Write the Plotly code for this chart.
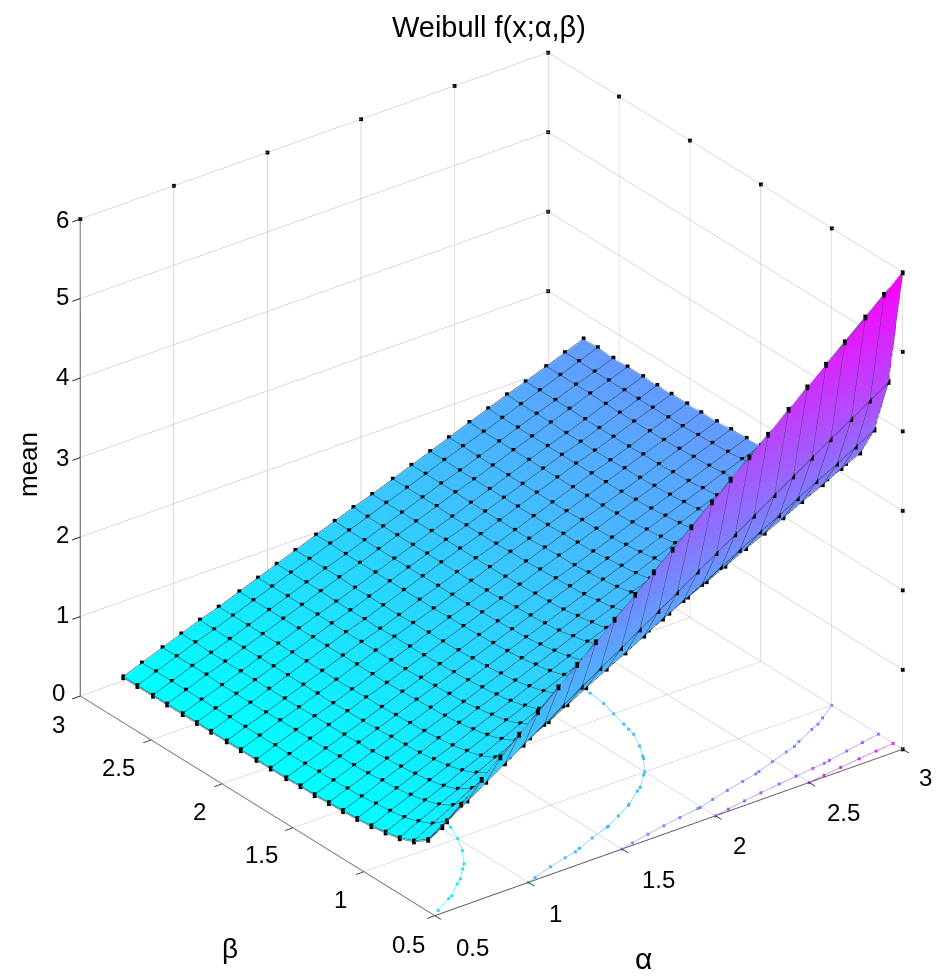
import plotly.graph_objects as go

title = "Weibull f(x;α,β)"
alpha = [0.54,0.64,0.75,0.85,0.95,1.05,1.16,1.26,1.36,1.46,1.57,1.67,1.77,1.87,1.98,2.08,2.18,2.28,2.39,2.49,2.59,2.69,2.80,2.90,3.00]
beta = [0.5,0.6,0.7,0.8,0.9,1.0,1.1,1.2,1.3,1.4,1.5,1.6,1.71,1.81,1.92,2.02,2.13,2.23,2.33,2.44,2.54,2.65,2.75]
mean = [
[1.08,1.28,1.50,1.70,1.90,2.10,2.32,2.52,2.72,2.92,3.14,3.34,3.54,3.74,3.96,4.16,4.36,4.56,4.78,4.98,5.18,5.38,5.60,5.80,6.00],
[0.81,0.96,1.13,1.28,1.43,1.58,1.75,1.90,2.05,2.20,2.36,2.51,2.66,2.81,2.98,3.13,3.28,3.43,3.60,3.75,3.90,4.05,4.21,4.36,4.51],
[0.68,0.81,0.95,1.08,1.20,1.33,1.47,1.59,1.72,1.85,1.99,2.11,2.24,2.37,2.51,2.63,2.76,2.89,3.03,3.15,3.28,3.41,3.54,3.67,3.80],
[0.61,0.73,0.85,0.96,1.08,1.19,1.31,1.43,1.54,1.65,1.78,1.89,2.01,2.12,2.24,2.36,2.47,2.58,2.71,2.82,2.93,3.05,3.17,3.29,3.40],
[0.57,0.67,0.79,0.89,1.00,1.10,1.22,1.33,1.43,1.54,1.65,1.76,1.86,1.97,2.08,2.19,2.29,2.40,2.51,2.62,2.73,2.83,2.95,3.05,3.16],
[0.54,0.64,0.75,0.85,0.95,1.05,1.16,1.26,1.36,1.46,1.57,1.67,1.77,1.87,1.98,2.08,2.18,2.28,2.39,2.49,2.59,2.69,2.80,2.90,3.00],
[0.52,0.62,0.72,0.82,0.92,1.01,1.12,1.22,1.31,1.41,1.51,1.61,1.71,1.80,1.91,2.01,2.10,2.20,2.31,2.40,2.50,2.60,2.70,2.80,2.89],
[0.51,0.60,0.71,0.80,0.89,0.99,1.09,1.19,1.28,1.37,1.48,1.57,1.67,1.76,1.86,1.96,2.05,2.14,2.25,2.34,2.44,2.53,2.63,2.73,2.82],
[0.50,0.59,0.69,0.79,0.88,0.97,1.07,1.16,1.26,1.35,1.45,1.54,1.63,1.73,1.83,1.92,2.01,2.11,2.21,2.30,2.39,2.48,2.59,2.68,2.77],
[0.49,0.58,0.68,0.77,0.87,0.96,1.06,1.15,1.24,1.33,1.43,1.52,1.61,1.70,1.80,1.90,1.99,2.08,2.18,2.27,2.36,2.45,2.55,2.64,2.73],
[0.49,0.58,0.68,0.77,0.86,0.95,1.05,1.14,1.23,1.32,1.42,1.51,1.60,1.69,1.79,1.88,1.97,2.06,2.16,2.25,2.34,2.43,2.53,2.62,2.71],
[0.48,0.57,0.67,0.76,0.85,0.94,1.04,1.13,1.22,1.31,1.41,1.50,1.59,1.68,1.78,1.86,1.95,2.04,2.14,2.23,2.32,2.41,2.51,2.60,2.69],
[0.48,0.57,0.67,0.76,0.85,0.94,1.03,1.12,1.21,1.30,1.40,1.49,1.58,1.67,1.77,1.86,1.94,2.03,2.13,2.22,2.31,2.40,2.50,2.59,2.68],
[0.48,0.57,0.67,0.76,0.84,0.93,1.03,1.12,1.21,1.30,1.40,1.48,1.57,1.66,1.76,1.85,1.94,2.03,2.12,2.21,2.30,2.39,2.49,2.58,2.67],
[0.48,0.57,0.67,0.75,0.84,0.93,1.03,1.12,1.21,1.30,1.39,1.48,1.57,1.66,1.76,1.84,1.93,2.02,2.12,2.21,2.30,2.39,2.48,2.57,2.66],
[0.48,0.57,0.66,0.75,0.84,0.93,1.03,1.12,1.20,1.29,1.39,1.48,1.57,1.66,1.75,1.84,1.93,2.02,2.12,2.21,2.29,2.38,2.48,2.57,2.66],
[0.48,0.57,0.66,0.75,0.84,0.93,1.03,1.12,1.20,1.29,1.39,1.48,1.57,1.66,1.75,1.84,1.93,2.02,2.12,2.21,2.29,2.38,2.48,2.57,2.66],
[0.48,0.57,0.66,0.75,0.84,0.93,1.03,1.12,1.20,1.29,1.39,1.48,1.57,1.66,1.75,1.84,1.93,2.02,2.12,2.21,2.29,2.38,2.48,2.57,2.66],
[0.48,0.57,0.66,0.75,0.84,0.93,1.03,1.12,1.20,1.29,1.39,1.48,1.57,1.66,1.75,1.84,1.93,2.02,2.12,2.21,2.29,2.38,2.48,2.57,2.66],
[0.48,0.57,0.67,0.75,0.84,0.93,1.03,1.12,1.21,1.30,1.39,1.48,1.57,1.66,1.76,1.85,1.93,2.02,2.12,2.21,2.30,2.39,2.49,2.57,2.66],
[0.48,0.57,0.67,0.75,0.84,0.93,1.03,1.12,1.21,1.30,1.39,1.48,1.57,1.66,1.76,1.85,1.93,2.02,2.12,2.21,2.30,2.39,2.49,2.57,2.66],
[0.48,0.57,0.67,0.76,0.84,0.93,1.03,1.12,1.21,1.30,1.40,1.48,1.57,1.66,1.76,1.85,1.94,2.03,2.12,2.21,2.30,2.39,2.49,2.58,2.67],
[0.48,0.57,0.67,0.76,0.85,0.93,1.03,1.12,1.21,1.30,1.40,1.49,1.58,1.66,1.76,1.85,1.94,2.03,2.13,2.22,2.31,2.39,2.49,2.58,2.67],
]
alpha_ticks = [0.5,1,1.5,2,2.5,3]
beta_ticks = [0.5,1,1.5,2,2.5,3]
mean_ticks = [0,1,2,3,4,5,6]
contour_levels = [1,2,3,4,5]
alpha_labels = ["0.5","1","1.5","2","2.5","3"]
beta_labels = ["0.5","1","1.5","2","2.5","3"]
mean_labels = ["0","1","2","3","4","5","6"]

# where the text sits on the page, in pixels
alpha_label_px = [(472,947),(555,913),(658,879),(739,845),(843,812),(925,777)]
beta_label_px = [(408,944),(340,899),(261,854),(199,811),(118,767),(58,724)]
mean_label_px = [(58,692),(62,614),(62,534),(62,457),(62,376),(62,296),(62,220)]

GRID = "#b4b4b4"
AXIS = "#555555"
FONT = "Liberation Sans, Arial, sans-serif"
TEXT = "#000000"
LINE_LIFT = 0.008
DOT_LIFT = 0.012
zlo, zhi = min(map(min, mean)), 6.0

def cool(v):
    t = (v - zlo) / (zhi - zlo)
    return f"rgb({round(255*t)},{round(255*(1-t))},255)"

fig = go.Figure()
fig.add_trace(go.Surface(
    x=alpha, y=beta, z=mean, cmin=zlo, cmax=zhi,
    colorscale=[[0, "#00ffff"], [1, "#ff00ff"]], showscale=False,
    lighting=dict(ambient=1, diffuse=0, specular=0, roughness=1, fresnel=0),
    hoverinfo="skip"))

# mesh lines and node dots, one copy just above and one just below the sheet so both faces show them
for sign in (1, -1):
    lift = sign*LINE_LIFT
    mx, my, mz = [], [], []
    for i, b in enumerate(beta):
        mx += alpha + [None]; my += [b]*len(alpha) + [None]; mz += [v+lift for v in mean[i]] + [None]
    for j, a in enumerate(alpha):
        mx += [a]*len(beta) + [None]; my += beta + [None]; mz += [r[j]+lift for r in mean] + [None]
    fig.add_trace(go.Scatter3d(x=mx, y=my, z=mz, mode="lines",
                               line=dict(color="#2a3a50", width=1), hoverinfo="skip"))
    nx = [a for b in beta for a in alpha]
    ny = [b for b in beta for a in alpha]
    nz = [v+sign*DOT_LIFT for r in mean for v in r]
    fig.add_trace(go.Scatter3d(x=nx, y=ny, z=nz, mode="markers",
                               marker=dict(color="black", size=2, symbol="square"), hoverinfo="skip"))

# floor contours, taken from where the table crosses each level
for L in contour_levels:
    pts = []
    for i, b in enumerate(beta):
        r = mean[i]
        for j in range(len(alpha)-1):
            if (r[j]-L)*(r[j+1]-L) <= 0 and r[j] != r[j+1]:
                f = (L-r[j])/(r[j+1]-r[j])
                pts.append((b, alpha[j]+f*(alpha[j+1]-alpha[j])))
    for j, a in enumerate(alpha):
        for i in range(len(beta)-1):
            u, v = mean[i][j], mean[i+1][j]
            if (u-L)*(v-L) <= 0 and u != v:
                f = (L-u)/(v-u)
                pts.append((beta[i]+f*(beta[i+1]-beta[i]), a))
    pts.sort()
    fig.add_trace(go.Scatter3d(
        x=[p[1] for p in pts], y=[p[0] for p in pts], z=[0]*len(pts),
        mode="lines+markers",
        line=dict(color=cool(L), width=1),
        marker=dict(color=cool(L), size=1.5, symbol="square"), hoverinfo="skip"))

# tick dots along the far edges of the walls
dx = alpha_ticks + [3]*len(beta_ticks) + [3]*len(mean_ticks) + [3]*len(mean_ticks)
dy = [3]*len(alpha_ticks) + beta_ticks + [3]*len(mean_ticks) + [0.5]*len(mean_ticks)
dz = [6]*len(alpha_ticks) + [6]*len(beta_ticks) + mean_ticks + mean_ticks
fig.add_trace(go.Scatter3d(x=dx, y=dy, z=dz, mode="markers",
                           marker=dict(color="black", size=2, symbol="square"), hoverinfo="skip"))

def ax(rng, ticks):
    return dict(range=rng, tickmode="array", tickvals=ticks, showticklabels=False,
                showgrid=True, gridcolor=GRID, gridwidth=1, showline=True, linecolor=AXIS, linewidth=2,
                ticks="outside", ticklen=10, tickcolor="#222222", tickwidth=2,
                zeroline=False, showbackground=False, showspikes=False, title=dict(text=""))

R = 1.662
CZ = -0.009
notes = []
for txt, (px, py) in list(zip(alpha_labels, alpha_label_px)) + list(zip(beta_labels, beta_label_px)) + list(zip(mean_labels, mean_label_px)):
    notes.append(dict(text=txt, x=px, y=py, size=24))
notes += [dict(text="mean", x=28, y=465, size=26, textangle=-90),
          dict(text="α", x=643, y=958, size=30),
          dict(text="β", x=230, y=948, size=28)]
annotations = []
for n in notes:
    annotations.append(dict(text=n["text"], x=n["x"]/943, y=1-n["y"]/976, xref="paper", yref="paper",
                            xanchor="center", yanchor="middle", showarrow=False,
                            textangle=n.get("textangle", 0),
                            font=dict(family=FONT, size=n["size"], color=TEXT)))

fig.update_layout(
    width=943, height=976, autosize=False, showlegend=False,
    paper_bgcolor="white", margin=dict(l=0, r=0, t=0, b=0),
    title=dict(text=title, x=0.5185, xanchor="center", y=0.972, yanchor="middle",
               font=dict(family=FONT, size=29, color=TEXT)),
    scene=dict(
        domain=dict(x=[0.0424, 1], y=[0, 1]),
        xaxis=ax([0.5, 3], alpha_ticks),
        yaxis=ax([0.5, 3], beta_ticks),
        zaxis=ax([0, 6], mean_ticks),
        aspectmode="manual", aspectratio=dict(x=1.203, y=1.203, z=1.107),
        camera=dict(projection=dict(type="orthographic"),
                    center=dict(x=0, y=0, z=CZ), up=dict(x=0, y=0, z=1),
                    eye=dict(x=-0.604*0.883*R, y=-0.797*0.883*R, z=0.4695*R+CZ))),
    annotations=annotations)
fig.write_html("out.html", config=dict(displayModeBar=False),
               post_script="document.body.style.margin='0';")
